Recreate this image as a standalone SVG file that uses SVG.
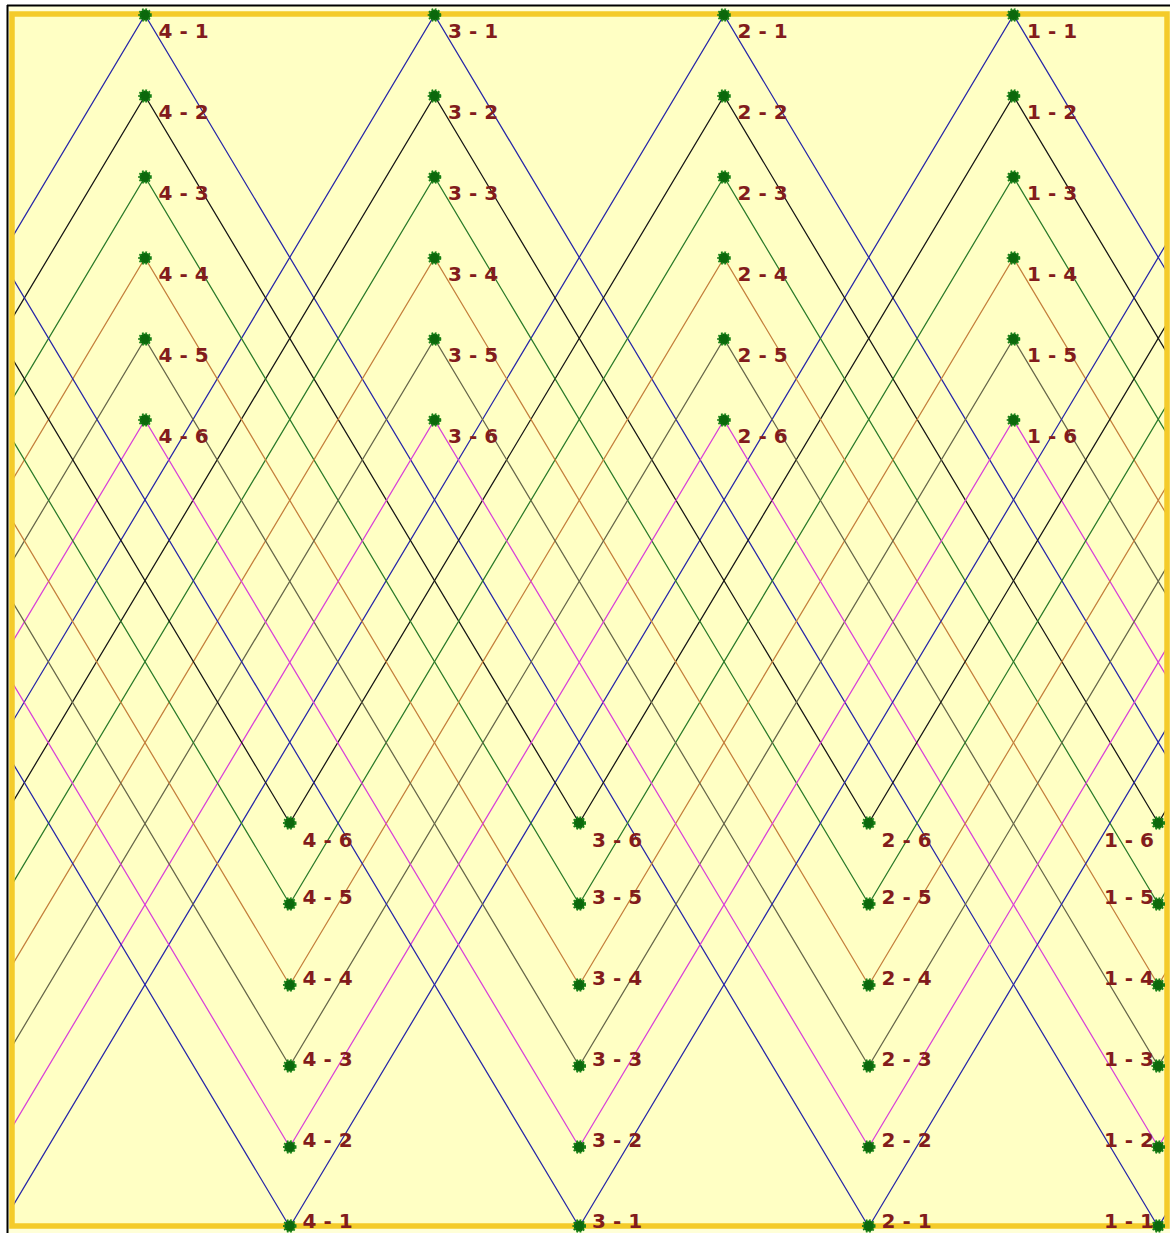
<svg xmlns="http://www.w3.org/2000/svg" width="1170" height="1233" viewBox="0 0 1170 1233">
<style>
.l1{stroke:#2626a8}.l2{stroke:#151515}.l3{stroke:#2a7a2a}.l4{stroke:#c47f3c}.l5{stroke:#66664a}.l6{stroke:#d840d8}
path.w{fill:none;stroke-width:1.25}
.dot{fill:#0c680c;stroke:#178017;stroke-width:2.6;stroke-dasharray:1.6 1.6}
text{font-family:"DejaVu Sans","Liberation Sans",sans-serif;font-weight:bold;font-size:20px;fill:#821c1c}
.e{text-anchor:end}
</style>
<defs>
<clipPath id="clip"><rect x="10" y="10" width="1159" height="1219"/></clipPath>
<g id="base">
<path class="w l1" d="M -578.75 1227 L 145 15 L 868.75 1227"/>
<path class="w l1" d="M -289.25 1227 L 434.5 15 L 1158.25 1227"/>
<path class="w l1" d="M 0.25 1227 L 724 15 L 1447.75 1227"/>
<path class="w l1" d="M 289.75 1227 L 1013.5 15 L 1737.25 1227"/>
<path class="w l2" d="M -289.25 823 L 145 96 L 579.25 823"/>
<path class="w l2" d="M 0.25 823 L 434.5 96 L 868.75 823"/>
<path class="w l2" d="M 289.75 823 L 724 96 L 1158.25 823"/>
<path class="w l2" d="M 579.25 823 L 1013.5 96 L 1447.75 823"/>
<path class="w l3" d="M -289.25 904 L 145 177 L 579.25 904"/>
<path class="w l3" d="M 0.25 904 L 434.5 177 L 868.75 904"/>
<path class="w l3" d="M 289.75 904 L 724 177 L 1158.25 904"/>
<path class="w l3" d="M 579.25 904 L 1013.5 177 L 1447.75 904"/>
<path class="w l4" d="M -289.25 985 L 145 258 L 579.25 985"/>
<path class="w l4" d="M 0.25 985 L 434.5 258 L 868.75 985"/>
<path class="w l4" d="M 289.75 985 L 724 258 L 1158.25 985"/>
<path class="w l4" d="M 579.25 985 L 1013.5 258 L 1447.75 985"/>
<path class="w l5" d="M -289.25 1066 L 145 339 L 579.25 1066"/>
<path class="w l5" d="M 0.25 1066 L 434.5 339 L 868.75 1066"/>
<path class="w l5" d="M 289.75 1066 L 724 339 L 1158.25 1066"/>
<path class="w l5" d="M 579.25 1066 L 1013.5 339 L 1447.75 1066"/>
<path class="w l6" d="M -289.25 1147 L 145 420 L 579.25 1147"/>
<path class="w l6" d="M 0.25 1147 L 434.5 420 L 868.75 1147"/>
<path class="w l6" d="M 289.75 1147 L 724 420 L 1158.25 1147"/>
<path class="w l6" d="M 579.25 1147 L 1013.5 420 L 1447.75 1147"/>
</g>
</defs>
<rect x="0" y="0" width="1170" height="1233" fill="#ffffff"/>
<rect x="8" y="6" width="1162" height="1227" fill="#ffffd8"/>
<rect x="12" y="14" width="1155" height="1212" fill="#ffffc4"/>
<g id="connectors" clip-path="url(#clip)">
<use href="#base"/>
<use href="#base" x="1158"/>
<use href="#base" x="-1158"/>
</g>
<rect x="12" y="14" width="1155" height="1212" fill="none" stroke="#f4cb2a" stroke-width="5.5"/>
<line x1="7" y1="5.5" x2="1170" y2="5.5" stroke="#000" stroke-width="2"/>
<line x1="7.5" y1="5" x2="7.5" y2="1233" stroke="#000" stroke-width="2"/>
<g id="nodes">
<g id="t4-1"><circle class="dot" cx="145" cy="15" r="5.5"/><text x="158.5" y="38">4 - 1</text></g>
<g id="t4-2"><circle class="dot" cx="145" cy="96" r="5.5"/><text x="158.5" y="119">4 - 2</text></g>
<g id="t4-3"><circle class="dot" cx="145" cy="177" r="5.5"/><text x="158.5" y="200">4 - 3</text></g>
<g id="t4-4"><circle class="dot" cx="145" cy="258" r="5.5"/><text x="158.5" y="281">4 - 4</text></g>
<g id="t4-5"><circle class="dot" cx="145" cy="339" r="5.5"/><text x="158.5" y="362">4 - 5</text></g>
<g id="t4-6"><circle class="dot" cx="145" cy="420" r="5.5"/><text x="158.5" y="443">4 - 6</text></g>
<g id="t3-1"><circle class="dot" cx="434.5" cy="15" r="5.5"/><text x="448" y="38">3 - 1</text></g>
<g id="t3-2"><circle class="dot" cx="434.5" cy="96" r="5.5"/><text x="448" y="119">3 - 2</text></g>
<g id="t3-3"><circle class="dot" cx="434.5" cy="177" r="5.5"/><text x="448" y="200">3 - 3</text></g>
<g id="t3-4"><circle class="dot" cx="434.5" cy="258" r="5.5"/><text x="448" y="281">3 - 4</text></g>
<g id="t3-5"><circle class="dot" cx="434.5" cy="339" r="5.5"/><text x="448" y="362">3 - 5</text></g>
<g id="t3-6"><circle class="dot" cx="434.5" cy="420" r="5.5"/><text x="448" y="443">3 - 6</text></g>
<g id="t2-1"><circle class="dot" cx="724" cy="15" r="5.5"/><text x="737.5" y="38">2 - 1</text></g>
<g id="t2-2"><circle class="dot" cx="724" cy="96" r="5.5"/><text x="737.5" y="119">2 - 2</text></g>
<g id="t2-3"><circle class="dot" cx="724" cy="177" r="5.5"/><text x="737.5" y="200">2 - 3</text></g>
<g id="t2-4"><circle class="dot" cx="724" cy="258" r="5.5"/><text x="737.5" y="281">2 - 4</text></g>
<g id="t2-5"><circle class="dot" cx="724" cy="339" r="5.5"/><text x="737.5" y="362">2 - 5</text></g>
<g id="t2-6"><circle class="dot" cx="724" cy="420" r="5.5"/><text x="737.5" y="443">2 - 6</text></g>
<g id="t1-1"><circle class="dot" cx="1013.5" cy="15" r="5.5"/><text x="1027" y="38">1 - 1</text></g>
<g id="t1-2"><circle class="dot" cx="1013.5" cy="96" r="5.5"/><text x="1027" y="119">1 - 2</text></g>
<g id="t1-3"><circle class="dot" cx="1013.5" cy="177" r="5.5"/><text x="1027" y="200">1 - 3</text></g>
<g id="t1-4"><circle class="dot" cx="1013.5" cy="258" r="5.5"/><text x="1027" y="281">1 - 4</text></g>
<g id="t1-5"><circle class="dot" cx="1013.5" cy="339" r="5.5"/><text x="1027" y="362">1 - 5</text></g>
<g id="t1-6"><circle class="dot" cx="1013.5" cy="420" r="5.5"/><text x="1027" y="443">1 - 6</text></g>
<g id="b4-6"><circle class="dot" cx="289.75" cy="823" r="5.5"/><text x="302.5" y="847">4 - 6</text></g>
<g id="b4-5"><circle class="dot" cx="289.75" cy="904" r="5.5"/><text x="302.5" y="904">4 - 5</text></g>
<g id="b4-4"><circle class="dot" cx="289.75" cy="985" r="5.5"/><text x="302.5" y="985">4 - 4</text></g>
<g id="b4-3"><circle class="dot" cx="289.75" cy="1066" r="5.5"/><text x="302.5" y="1066">4 - 3</text></g>
<g id="b4-2"><circle class="dot" cx="289.75" cy="1147" r="5.5"/><text x="302.5" y="1147">4 - 2</text></g>
<g id="b4-1"><circle class="dot" cx="289.75" cy="1226" r="5.5"/><text x="302.5" y="1228">4 - 1</text></g>
<g id="b3-6"><circle class="dot" cx="579.25" cy="823" r="5.5"/><text x="592" y="847">3 - 6</text></g>
<g id="b3-5"><circle class="dot" cx="579.25" cy="904" r="5.5"/><text x="592" y="904">3 - 5</text></g>
<g id="b3-4"><circle class="dot" cx="579.25" cy="985" r="5.5"/><text x="592" y="985">3 - 4</text></g>
<g id="b3-3"><circle class="dot" cx="579.25" cy="1066" r="5.5"/><text x="592" y="1066">3 - 3</text></g>
<g id="b3-2"><circle class="dot" cx="579.25" cy="1147" r="5.5"/><text x="592" y="1147">3 - 2</text></g>
<g id="b3-1"><circle class="dot" cx="579.25" cy="1226" r="5.5"/><text x="592" y="1228">3 - 1</text></g>
<g id="b2-6"><circle class="dot" cx="868.75" cy="823" r="5.5"/><text x="881.5" y="847">2 - 6</text></g>
<g id="b2-5"><circle class="dot" cx="868.75" cy="904" r="5.5"/><text x="881.5" y="904">2 - 5</text></g>
<g id="b2-4"><circle class="dot" cx="868.75" cy="985" r="5.5"/><text x="881.5" y="985">2 - 4</text></g>
<g id="b2-3"><circle class="dot" cx="868.75" cy="1066" r="5.5"/><text x="881.5" y="1066">2 - 3</text></g>
<g id="b2-2"><circle class="dot" cx="868.75" cy="1147" r="5.5"/><text x="881.5" y="1147">2 - 2</text></g>
<g id="b2-1"><circle class="dot" cx="868.75" cy="1226" r="5.5"/><text x="881.5" y="1228">2 - 1</text></g>
<g id="b1-6"><circle class="dot" cx="1158.25" cy="823" r="5.5"/><text class="e" x="1154" y="847">1 - 6</text></g>
<g id="b1-5"><circle class="dot" cx="1158.25" cy="904" r="5.5"/><text class="e" x="1154" y="904">1 - 5</text></g>
<g id="b1-4"><circle class="dot" cx="1158.25" cy="985" r="5.5"/><text class="e" x="1154" y="985">1 - 4</text></g>
<g id="b1-3"><circle class="dot" cx="1158.25" cy="1066" r="5.5"/><text class="e" x="1154" y="1066">1 - 3</text></g>
<g id="b1-2"><circle class="dot" cx="1158.25" cy="1147" r="5.5"/><text class="e" x="1154" y="1147">1 - 2</text></g>
<g id="b1-1"><circle class="dot" cx="1158.25" cy="1226" r="5.5"/><text class="e" x="1154" y="1228">1 - 1</text></g>
</g>
</svg>
